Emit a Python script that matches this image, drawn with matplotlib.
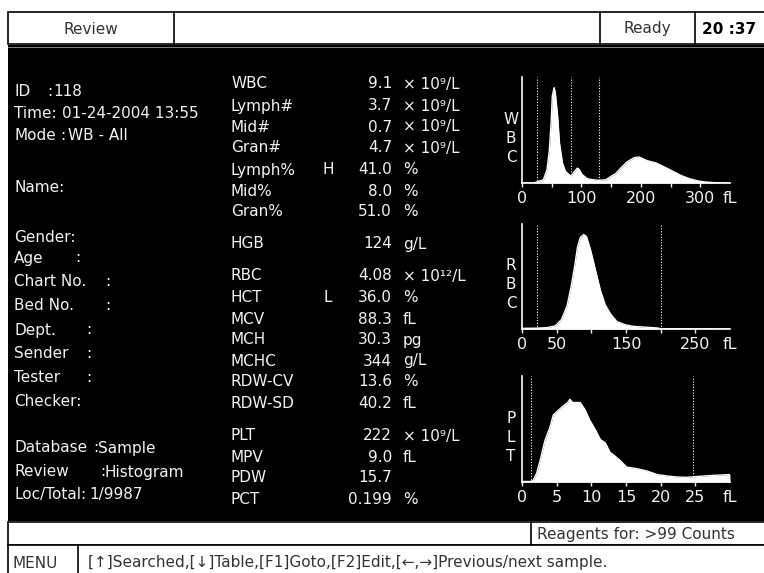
## import packages
import matplotlib
matplotlib.use('Agg')
import matplotlib.pyplot as plt
from matplotlib.patches import Rectangle
from matplotlib.ticker import FixedLocator

## data
result_names = ['WBC', 'Lymph#', 'Mid#', 'Gran#', 'Lymph%', 'Mid%', 'Gran%',
                'HGB', 'RBC', 'HCT', 'MCV', 'MCH', 'MCHC', 'RDW-CV', 'RDW-SD',
                'PLT', 'MPV', 'PDW', 'PCT']
result_flags = ['', '', '', '', 'H', '', '', '', '', 'L', '', '', '', '', '',
                '', '', '', '']
result_values = ['9.1', '3.7', '0.7', '4.7', '41.0', '8.0', '51.0', '124',
                 '4.08', '36.0', '88.3', '30.3', '344', '13.6', '40.2',
                 '222', '9.0', '15.7', '0.199']
result_units = ['× 10⁹/L', '× 10⁹/L', '× 10⁹/L', '× 10⁹/L', '%', '%', '%',
                'g/L', '× 10¹²/L', '%', 'fL', 'pg', 'g/L', '%', 'fL',
                '× 10⁹/L', 'fL', '', '%']

info_labels = ['ID', 'Time:', 'Mode', 'Name:', 'Gender:', 'Age', 'Chart No.',
               'Bed No.', 'Dept.', 'Sender', 'Tester', 'Checker:',
               'Database', 'Review', 'Loc/Total:']
info_values = ['118', '01-24-2004 13:55', 'WB - All', '', '', '', '', '',
               '', '', '', '', 'Sample', 'Histogram', '1/9987']

wbc_fl = [0, 20, 25, 36, 42, 46, 49, 51, 54, 56, 60, 63, 68, 73, 79, 83, 87,
          93, 96, 101, 110, 121, 129, 141, 149, 158, 166, 177, 189, 197, 211,
          225, 240, 254, 268, 282, 296, 307, 324, 350]
wbc_count = [0, 0, 1, 3, 12.5, 31, 57, 82, 90, 85, 63, 38, 19, 11, 8, 6, 10,
             14, 13, 8, 4, 3, 2.5, 3, 6, 9, 14, 20, 24, 24.5, 21,
             19, 15, 11, 7, 4, 2, 1, 0.3, 0]
wbc_lines = [25, 83, 129, 350]

rbc_fl = [0, 21, 36, 48, 57, 65, 71, 76, 80, 84, 89, 93, 99, 106, 113, 120,
          128, 137, 149, 161, 181, 195, 200, 300]
rbc_count = [0.6, 0.8, 1.3, 3, 9, 22, 41, 60, 78, 87, 90, 88, 75, 56, 37, 23,
             14, 7, 4, 2.5, 1.6, 1, 0.3, 0]
rbc_lines = [21, 200]

plt_fl = [0, 1.2, 1.6, 2.1, 2.6, 3.3, 4.05, 4.5, 5.3, 6.0, 6.6, 6.9, 7.3, 7.9,
          8.4, 9.1, 9.8, 10.6, 11.3, 12.0, 12.7, 13.5, 14.2, 15.1, 16.6, 18.0,
          19.5, 20.9, 22.4, 23.8, 25.7, 27.7, 30]
plt_count = [0.5, 0.5, 1.5, 8, 20, 39, 52, 63, 68, 72, 75, 78, 75, 75,
             75, 68, 58, 49, 40, 37, 28, 24, 20, 14, 12.6, 10.4,
             7, 5.7, 4.7, 4.4, 5.4, 6.3, 7]
plt_lines = [1.3, 24.6]

menu_text = '[↑]Searched,[↓]Table,[F1]Goto,[F2]Edit,[←,→]Previous/next sample.'

## layout (pixels)
W, H = 764, 573
res_y = [84, 106, 127, 148, 170, 191, 212, 244, 276, 298, 319, 340, 361, 382,
         404, 436, 457, 478, 500]
info_y = [92, 114, 135, 187, 237, 258, 282, 306, 330, 353, 377, 401, 448, 472, 495]
colon_x = [47, None, 60, None, None, 75, 105, 105, 86, 86, 86, None, 93, 100, None]
value_x = [53, 62, 68, 0, 0, 0, 0, 0, 0, 0, 0, 0, 98, 104, 89]

FS = 11
plt.rcParams['font.family'] = ['DejaVu Sans']
fg = '#f2f2f2'
ink = '#333333'

fig = plt.figure(figsize=(W / 100, H / 100), dpi=100)
fig.patch.set_facecolor('white')
bg = fig.add_axes([0, 0, 1, 1])
bg.set_xlim(0, W)
bg.set_ylim(H, 0)
bg.axis('off')

## top status bar
bg.add_patch(Rectangle((8, 12), W, 32, fc='white', ec='black', lw=1.2))
for x in [174, 600, 695]:
    bg.plot([x, x], [12, 44], color='black', lw=1.2)
bg.text(91, 29, 'Review', ha='center', va='center', fontsize=FS, color=ink)
bg.text(647, 29, 'Ready', ha='center', va='center', fontsize=FS, color=ink)
bg.text(729, 29, '20 :37', ha='center', va='center', fontsize=FS,
        fontweight='bold', color='black')

## black screen
bg.add_patch(Rectangle((8, 45), W, 476, fc='black', ec='none'))
bg.plot([8, W], [46.5, 46.5], color='#9a9a9a', lw=0.6)

## patient info
for lab, val, y, cx, vx in zip(info_labels, info_values, info_y, colon_x, value_x):
    bg.text(14, y, lab, va='center', fontsize=FS, color=fg)
    if cx is not None:
        bg.text(cx, y, ':', va='center', fontsize=FS, color=fg)
    if val:
        bg.text(vx, y, val, va='center', fontsize=FS, color=fg)

## results
for name, flag, val, unit, y in zip(result_names, result_flags, result_values,
                                    result_units, res_y):
    bg.text(231, y, name, va='center', fontsize=FS, color=fg)
    if flag:
        bg.text(328, y, flag, va='center', ha='center', fontsize=FS, color=fg)
    bg.text(392, y, val, va='center', ha='right', fontsize=FS, color=fg)
    if unit:
        bg.text(403, y, unit, va='center', fontsize=FS, color=fg)

## bottom rows
bg.add_patch(Rectangle((8, 522), W, 23, fc='white', ec='black', lw=1.2))
bg.plot([531, 531], [522, 545], color='black', lw=1.2)
bg.text(537, 534, 'Reagents for: >99 Counts', va='center', fontsize=FS,
        color=ink)
bg.add_patch(Rectangle((8, 545), W, 40, fc='white', ec='black', lw=1.2))
bg.plot([78, 78], [545, 573], color='black', lw=1.2)
bg.text(12, 563, 'MENU', va='center', fontsize=FS, color=ink)
bg.text(88, 562, menu_text, va='center', fontsize=FS, color=ink)


## histograms
def histogram(y0, ytop, xs, ys, xmax, lines, major, labels, minor, letters):
    ax = fig.add_axes([522 / W, 1 - y0 / H, 208 / W, (y0 - ytop) / H])
    ax.set_facecolor('black')
    ax.set_xlim(0, xmax)
    ax.set_ylim(0, 100)
    ax.fill_between(xs, ys, 0, color='white', lw=0)
    ax.plot(xs, ys, color='white', lw=1.0)
    ax.vlines(lines, 0, 100, colors='white', linestyles=(0, (1, 1.5)), lw=0.8)
    for s in ['top', 'right']:
        ax.spines[s].set_visible(False)
    for s in ['left', 'bottom']:
        ax.spines[s].set_color('white')
        ax.spines[s].set_linewidth(1.2)
    ax.set_yticks([])
    ax.xaxis.set_major_locator(FixedLocator(major))
    ax.set_xticklabels(labels)
    ax.xaxis.set_minor_locator(FixedLocator(minor))
    ax.tick_params(axis='x', which='both', colors=fg, length=3,
                   width=1, labelsize=FS + 0.5, pad=3)
    ax.annotate('fL', xy=(xmax, 0), xytext=(0, -6), textcoords='offset points',
                ha='center', va='top', fontsize=FS + 0.5, color=fg,
                annotation_clip=False)
    for i, ch in enumerate(letters):
        ax.text(-0.053, 0.6 - i * 0.18, ch, transform=ax.transAxes,
                ha='center', va='center', fontsize=FS, color=fg)
    return ax


histogram(183, 77, wbc_fl, wbc_count, 350, wbc_lines,
          [0, 100, 200, 300], ['0', '100', '200', '300'],
          [50, 150, 250], 'WBC')
histogram(329, 224, rbc_fl, rbc_count, 300, rbc_lines,
          [0, 50, 150, 250], ['0', '50', '150', '250'],
          [100, 200], 'RBC')
histogram(482, 376, plt_fl, plt_count, 30, plt_lines,
          [0, 5, 10, 15, 20, 25], ['0', '5', '10', '15', '20', '25'],
          [], 'PLT')

plt.savefig('out.png', dpi=100, facecolor='white')
